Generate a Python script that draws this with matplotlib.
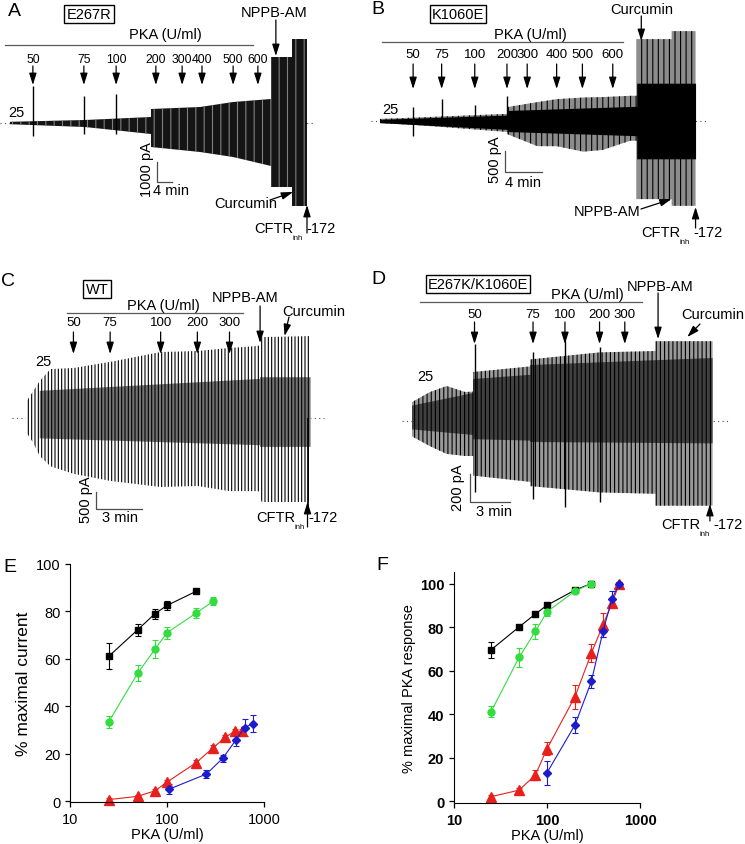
import matplotlib.pyplot as plt
from matplotlib.ticker import NullLocator

plt.rcParams['font.family'] = ['Liberation Sans', 'DejaVu Sans']
plt.rcParams['hatch.linewidth'] = 0.8

W, H = 745, 845

# ---------------- current traces: envelopes (time in min, current in pA) ----------------
a_t = [0, 20, 37.6, 37.6, 50.7, 59.5, 69.6, 69.6, 75.2, 75.2, 79.2]
a_up = [60, 150, 300, 700, 800, 1050, 1200, 3300, 3300, 4200, 4200]
a_lo = [-60, -200, -550, -1200, -1450, -1700, -2150, -3200, -3200, -4150, -4150]
a_spike_t = [6.1, 19.7, 28.3]
a_spike_up = [1850, 1350, 1450]
a_spike_lo = [-650, -550, -550]
a_dose_t = [6.1, 19.7, 28.3, 38.9, 45.9, 51.2, 59.5, 66.1]
a_drug_t = {'NPPB-AM': 70.9, 'Curcumin': 75.5, 'CFTR': 79.2}

b_t = [0, 3.6, 13.8, 13.8, 17.1, 19.2, 22.1, 24.2, 27.2, 27.9, 27.9, 31.7, 31.7, 34.3]
b_up = [50, 80, 170, 330, 450, 520, 560, 570, 600, 600, 1950, 1950, 2140, 2140]
b_lo = [-50, -90, -260, -310, -600, -600, -730, -690, -470, -470, -1860, -1860, -2020, -2020]
b_in_t = [0, 13.8, 13.8, 27.9, 27.9, 34.3]
b_in_up = [40, 140, 250, 350, 900, 900]
b_in_lo = [-40, -200, -250, -350, -900, -900]
b_spike_t = [3.6, 6.7, 10.3, 13.8]
b_spike_up = [330, 520, 380, 600]
b_spike_lo = [-360, -100, -140, -120]
b_dose_t = [3.6, 6.7, 10.3, 13.8, 16.0, 19.2, 22.0, 25.3]
b_drug_t = {'Curcumin': 28.4, 'NPPB-AM': 31.7, 'CFTR': 34.3}

c_t = [0, 0.46, 0.9, 1.6, 3.1, 5.5, 8.8, 11.2, 13.3, 15.2, 15.4, 18.6]
c_up = [470, 780, 1090, 1440, 1470, 1650, 1940, 1970, 2060, 2120, 2380, 2410]
c_lo = [-410, -720, -1120, -1420, -1640, -1850, -2030, -2000, -2150, -2150, -2470, -2470]
c_in_t = [0.9, 15.3, 15.3, 18.6]
c_in_up = [800, 1150, 1200, 1200]
c_in_lo = [-600, -800, -850, -850]
c_dose_t = [3.1, 5.5, 8.8, 11.2, 13.3]
c_drug_t = {'NPPB-AM': 15.3, 'Curcumin': 16.9, 'CFTR': 18.4}

d_t = [0, 1.35, 2.6, 4.0, 4.6, 4.6, 8.9, 8.9, 14.1, 18.3, 18.3, 22.6]
d_up = [135, 207, 250, 207, 210, 350, 390, 440, 490, 500, 570, 570]
d_lo = [-110, -180, -235, -250, -250, -390, -435, -465, -510, -520, -605, -605]
d_in_t = [0, 4.6, 4.6, 8.9, 8.9, 22.6]
d_in_up = [110, 200, 300, 330, 400, 450]
d_in_lo = [-60, -100, -130, -140, -150, -160]
d_spike_t = [4.7, 9.1, 11.5, 14.1]
d_spike_up = [550, 490, 570, 530]
d_spike_lo = [-505, -557, -615, -580]
d_dose_t = [4.7, 9.1, 11.5, 14.1, 16.0]
d_drug_t = {'NPPB-AM': 18.5, 'Curcumin': 20.7, 'CFTR': 22.4}

doses_8 = ['50', '75', '100', '200', '300', '400', '500', '600']
doses_5 = ['50', '75', '100', '200', '300']

# ---------------- concentration-response data ----------------
e_x_black = [25, 50, 75, 100, 200]
e_black = [61, 72.3, 79, 82.5, 88.5]
e_black_err = [5.5, 2.5, 2.0, 1.8, 0.8]
e_x_green = [25, 50, 75, 100, 200, 300]
e_green = [33.3, 54, 64, 71, 79.3, 84.3]
e_green_err = [2.5, 3.5, 3.8, 2.5, 2.2, 1.8]
e_x_red = [25, 50, 75, 100, 200, 300, 400, 500, 600]
e_red = [0.6, 2, 4.3, 8, 16.2, 22.5, 27, 29.4, 29.4]
e_red_err = [0.5, 0.6, 0.8, 1, 1, 1, 1, 1, 1]
e_x_blue = [105, 255, 375, 510, 630, 770]
e_blue = [5, 11.4, 18, 25.6, 31, 32.7]
e_blue_err = [2, 1.5, 1.5, 2.5, 3.5, 3.5]

f_x_black = [25, 50, 75, 100, 200, 300]
f_black = [69.5, 80, 86, 90, 97, 100]
f_black_err = [3.8, 1, 0.8, 0.8, 0.5, 0.5]
f_x_green = [25, 50, 75, 100, 200, 300]
f_green = [41, 66, 78, 87, 96.5, 100]
f_green_err = [2.5, 4.5, 3.5, 2, 0.5, 0.5]
f_x_red = [25, 50, 75, 100, 200, 300, 400, 500, 600]
f_red = [2, 5, 12, 24, 48, 68, 81, 91, 100]
f_red_err = [1, 1, 2.5, 3, 5.5, 4, 5.5, 2, 0.5]
f_x_blue = [100, 200, 300, 400, 500, 600]
f_blue = [13, 35, 55, 78, 93, 100]
f_blue_err = [5.5, 3.5, 3, 2.5, 3.5, 0.5]

x_ticks = [10, 100, 1000]
x_ticklabels = ['10', '100', '1000']

GREEN = '#33dd40'
RED = '#e8201c'
BLUE = '#1c1ccc'

fig = plt.figure(figsize=(W / 100, H / 100), dpi=100)


def fx(x):
    return x / W


def fy(y):
    return 1 - y / H


def ftext(x, y, s, size=10.5, **kw):
    kw.setdefault('ha', 'center')
    kw.setdefault('va', 'center')
    return fig.text(fx(x), fy(y), s, fontsize=size, **kw)


def fline(x1, x2, y):
    fig.add_artist(plt.Line2D([fx(x1), fx(x2)], [fy(y), fy(y)], color='0.35', lw=0.9,
                              transform=fig.transFigure))


def trace_axes(left, top, right, bottom, x0, y0, px_min, px_pa):
    ax = fig.add_axes([fx(left), fy(bottom), (right - left) / W, (bottom - top) / H])
    ax.set_xlim((left - x0) / px_min, (right - x0) / px_min)
    ax.set_ylim((y0 - bottom) / px_pa, (y0 - top) / px_pa)
    ax.axis('off')
    return ax


def envelope(ax, t, up, lo, face, hcolor, hatch):
    plt.rcParams['hatch.color'] = hcolor
    ax.fill_between(t, lo, up, facecolor=face, edgecolor=hcolor, hatch=hatch, linewidth=0)


ARW = dict(arrowstyle='-|>,head_length=0.7,head_width=0.22', color='k', lw=0.9,
           shrinkA=0, shrinkB=0)
PIX = ('data', 'figure pixels')


def vert_arrow(ax, t, y_tail, y_tip):
    ax.annotate('', xy=(t, H - y_tip), xycoords=PIX, xytext=(t, H - y_tail), textcoords=PIX,
                arrowprops=ARW, annotation_clip=False)


def diag_arrow(ax, t, y_tip, x_tail, y_tail):
    ax.annotate('', xy=(t, H - y_tip), xycoords=PIX, xytext=(x_tail, H - y_tail),
                textcoords='figure pixels', arrowprops=ARW, annotation_clip=False)


def doses(ax, times, labels, y_lab, y_tail, y_tip, size=9.5):
    for t, lab in zip(times, labels):
        vert_arrow(ax, t, y_tail, y_tip)
        ax.annotate(lab, xy=(t, H - y_lab), xycoords=PIX, ha='center', va='center',
                    fontsize=size, annotation_clip=False)


def cftr(x, y):
    ftext(x, y, 'CFTR', ha='right')
    ftext(x + 5, y + 10, 'inh', size=5.5)
    ftext(x + 13, y, '-172', ha='left')


def scale_bar(ax, t0, i0, dt, di):
    ax.plot([t0, t0, t0 + dt], [i0 + di, i0, i0], color='0.3', lw=0.9)


def spikes(ax, t, up, lo, color='k'):
    ax.vlines(t, lo, up, color=color, lw=1.0)


def baseline(ax, t0, t1):
    ax.plot([t0, t1], [0, 0], ls=(0, (1, 3)), color='0.3', lw=0.8, zorder=0)


box = dict(boxstyle='square,pad=0.15', fc='white', ec='black', lw=1.0)

# ---------------- A ----------------
axA = trace_axes(0, 0, 365, 260, 10, 124, 3.75, 0.02)
baseline(axA, -2.7, 80.8)
envelope(axA, a_t, a_up, a_lo, '0.08', '0.5', '||')
spikes(axA, a_spike_t, a_spike_up, a_spike_lo)
doses(axA, a_dose_t, doses_8, 60, 67, 86, size=8.8)
vert_arrow(axA, a_drug_t['NPPB-AM'], 21, 57)
diag_arrow(axA, a_drug_t['Curcumin'], 193, 270, 201)
vert_arrow(axA, a_drug_t['CFTR'], 234, 206)
scale_bar(axA, 39.2, -2950, 4, 1000)
ftext(14, 12, 'A', size=14)
ftext(89, 15, 'E267R', bbox=box)
ftext(165, 35, 'PKA (U/ml)')
fline(5, 253, 46)
ftext(16, 113, '25')
ftext(274, 13, 'NPPB-AM')
ftext(246, 204, 'Curcumin')
cftr(293, 229)
ftext(147, 170, '1000 pA', rotation=90)
ftext(171, 191, '4 min')

# ---------------- B ----------------
axB = trace_axes(370, 0, 745, 260, 380, 122, 9.2, 0.042)
baseline(axB, -1.0, 35.7)
envelope(axB, b_t, b_up, b_lo, '0.55', 'black', '|||')
envelope(axB, b_in_t, b_in_up, b_in_lo, 'black', 'black', None)
spikes(axB, b_spike_t, b_spike_up, b_spike_lo)
doses(axB, b_dose_t, doses_8, 55, 65, 90)
vert_arrow(axB, b_drug_t['Curcumin'], 17, 42)
diag_arrow(axB, b_drug_t['NPPB-AM'], 200, 641, 210)
vert_arrow(axB, b_drug_t['CFTR'], 229, 208)
scale_bar(axB, 13.6, -1214, 4, 500)
ftext(378, 10, 'B', size=14)
ftext(458, 15, 'K1060E', bbox=box)
ftext(530, 35, 'PKA (U/ml)')
fline(382, 623, 43)
ftext(390, 110, '25')
ftext(642, 10, 'Curcumin')
ftext(607, 212, 'NPPB-AM')
cftr(680, 233)
ftext(495, 160, '500 pA', rotation=90)
ftext(523, 183, '4 min')

# ---------------- C ----------------
axC = trace_axes(0, 270, 365, 540, 26, 419, 15.3, 0.034)
baseline(axC, -0.9, 19.5)
envelope(axC, c_t, c_up, c_lo, 'white', 'black', '|||||')
envelope(axC, c_in_t, c_in_up, c_in_lo, '0.45', 'black', '|||||')
doses(axC, c_dose_t, doses_5, 323, 333, 355)
vert_arrow(axC, c_drug_t['NPPB-AM'], 307, 344)
diag_arrow(axC, c_drug_t['Curcumin'], 337, 289, 318)
vert_arrow(axC, c_drug_t['CFTR'], 528, 503)
axC.vlines(c_drug_t['CFTR'], -2750, 0, color='k', lw=1.2)
scale_bar(axC, 4.6, -2675, 3, 500)
ftext(8, 282, 'C', size=14)
ftext(97, 290, 'WT', bbox=box)
ftext(163, 306, 'PKA (U/ml)')
fline(67, 243, 314)
ftext(43, 362, '25')
ftext(245, 298, 'NPPB-AM')
ftext(314, 312, 'Curcumin')
cftr(295, 518)
ftext(86, 500, '500 pA', rotation=90)
ftext(120, 518, '3 min')

# ---------------- D ----------------
axD = trace_axes(370, 270, 745, 540, 412, 422, 13.3, 0.14)
baseline(axD, -0.75, 23.8)
envelope(axD, d_t, d_up, d_lo, '0.6', 'black', '||||')
envelope(axD, d_in_t, d_in_up, d_in_lo, '0.25', 'black', '||||')
spikes(axD, d_spike_t, d_spike_up, d_spike_lo)
doses(axD, d_dose_t, doses_5, 315, 323, 345)
vert_arrow(axD, d_drug_t['NPPB-AM'], 294, 340)
diag_arrow(axD, d_drug_t['Curcumin'], 338, 700, 325)
vert_arrow(axD, d_drug_t['CFTR'], 522, 505)
scale_bar(axD, 4.36, -578, 3, 200)
ftext(378, 280, 'D', size=14)
ftext(478, 285, 'E267K/K1060E', bbox=box)
ftext(587, 295, 'PKA (U/ml)')
fline(420, 642, 303)
ftext(425, 377, '25')
ftext(660, 287, 'NPPB-AM')
ftext(713, 315, 'Curcumin')
cftr(700, 525)
ftext(458, 488, '200 pA', rotation=90)
ftext(494, 512, '3 min')


# ---------------- E / F ----------------
def curve(ax, x, y, err, color, marker, ms):
    ax.errorbar(x, y, yerr=err, color=color, marker=marker, ms=ms, lw=0.8,
                elinewidth=0.8, capsize=2, capthick=0.8, clip_on=False)


def style(ax, ylim, label, ylab_size, bold):
    ax.set_xscale('log')
    ax.set_xlim(10, 1000)
    ax.set_ylim(*ylim)
    ax.set_xticks(x_ticks)
    ax.set_xticklabels(x_ticklabels)
    ax.set_yticks([0, 20, 40, 60, 80, 100])
    ax.xaxis.set_minor_locator(NullLocator())
    ax.spines[['top', 'right']].set_visible(False)
    ax.tick_params(length=3.5, width=0.9, labelsize=10.5)
    for lab in ax.get_xticklabels() + ax.get_yticklabels():
        lab.set_fontweight('bold' if bold else 'normal')
    ax.set_xlabel('PKA (U/ml)', fontsize=10.5, labelpad=1)
    ax.set_ylabel(label, fontsize=ylab_size, labelpad=3)


axE = fig.add_axes([fx(70), fy(803), 194 / W, 238 / H])
curve(axE, e_x_black, e_black, e_black_err, 'black', 's', 4.5)
curve(axE, e_x_green, e_green, e_green_err, GREEN, 'o', 5)
curve(axE, e_x_red, e_red, e_red_err, RED, '^', 6.5)
curve(axE, e_x_blue, e_blue, e_blue_err, BLUE, 'D', 4.5)
style(axE, (-0.4, 100), '% maximal current', 12.5, False)
ftext(10, 567, 'E', size=14)

axF = fig.add_axes([fx(454), fy(804), 186 / W, 231 / H])
curve(axF, f_x_black, f_black, f_black_err, 'black', 's', 4.5)
curve(axF, f_x_green, f_green, f_green_err, GREEN, 'o', 5)
curve(axF, f_x_red, f_red, f_red_err, RED, '^', 6.5)
curve(axF, f_x_blue, f_blue, f_blue_err, BLUE, 'D', 4.5)
style(axF, (-0.9, 105.3), '% maximal PKA response', 10.5, True)
ftext(382, 566, 'F', size=14)

fig.savefig('out.png', dpi=100)
